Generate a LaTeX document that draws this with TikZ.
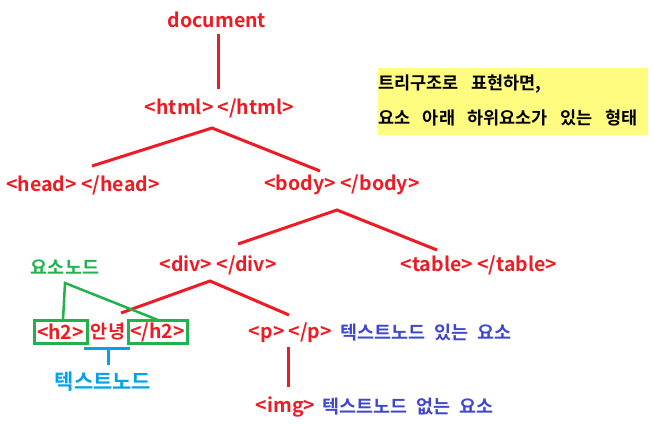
\documentclass[tikz,border=0pt]{standalone}
\usepackage{fontspec}
\setmainfont{Noto Sans CJK KR}[BoldFont={Noto Sans CJK KR Bold}]
\definecolor{pred}{HTML}{ED1C24}
\definecolor{pgreen}{HTML}{22B14C}
\definecolor{plblue}{HTML}{00A2E8}
\definecolor{pblue}{HTML}{3F48CC}
\definecolor{pyellow}{HTML}{FFFC7F}
\tikzset{
  tag/.style={text=pred,font=\fontsize{19.5}{22}\selectfont\bfseries,inner sep=0pt},
  note/.style={text=pblue,font=\fontsize{18.5}{21}\selectfont\bfseries,inner sep=0pt,
    execute at begin node={\spaceskip=9pt\relax}},
  boxtext/.style={anchor=west,inner sep=0pt,font=\fontsize{17.5}{20}\selectfont\bfseries,
    execute at begin node={\spaceskip=12.5pt\relax}},
  redline/.style={draw=pred,line width=3pt},
  greenline/.style={draw=pgreen,line width=2.5pt},
  blueline/.style={draw=plblue,line width=3pt},
  tagbox/.style={draw=pgreen,line width=3pt,minimum height=23pt,inner sep=0pt}
}
\begin{document}
\begin{tikzpicture}[x=1pt,y=-1pt]
\useasboundingbox (0,0) rectangle (653,423);
% yellow note
\fill[pyellow] (378,68) rectangle (648,135);
\node[boxtext] (n1) at (378,84) {트리구조로 표현하면,};
\node[boxtext] (n2) at (378,118) {요소 아래 하위요소가 있는 형태};
% tag nodes
\node[tag] (doc) at (217,20) {document};
\node[tag] (html) at (219.5,108) {<html> </html>};
\node[tag] (head) at (83,185) {<head> </head>};
\node[tag] (body) at (342,185) {<body> </body>};
\node[tag] (div) at (218,265) {<div> </div>};
\node[tag] (table) at (479,265) {<table> </table>};
\node[tag,tagbox,minimum width=53pt] (h2o) at (60.5,331.5) {<h2>};
\node[tag,font=\fontsize{18.5}{22}\selectfont\bfseries] (hello) at (108,332) {안녕};
\node[tag,tagbox,minimum width=59pt] (h2c) at (157.5,332) {</h2>};
\node[tag] (p) at (290.5,333) {<p> </p>};
\node[note,anchor=west] (ptext) at (340,333) {텍스트노드 있는 요소};
\node[tag] (img) at (285.5,407) {<img>};
\node[note,anchor=west] (imgtext) at (322,407) {텍스트노드 없는 요소};
\node[text=pgreen,font=\fontsize{18.5}{22}\selectfont\bfseries,inner sep=0pt] (elnode) at (65,267) {요소노드};
\node[text=plblue,font=\fontsize{21}{24}\selectfont\bfseries,inner sep=0pt] (txtnode) at (103,382) {텍스트노드};
% connector points
\coordinate (docB) at (218,34);
\coordinate (htmlT) at (218,89);
\coordinate (htmlB) at (212,128);
\coordinate (headT) at (92,166);
\coordinate (bodyT) at (320,171);
\coordinate (bodyB) at (337,210);
\coordinate (divT) at (238,244);
\coordinate (tableT) at (437,250);
\coordinate (divB) at (210,281);
\coordinate (h2T) at (121,313);
\coordinate (pT) at (289,315);
\coordinate (pB) at (288,347);
\coordinate (imgT) at (288,387);
\coordinate (elB) at (65,283);
\coordinate (h2oT) at (63,320);
\coordinate (h2cT) at (158,320);
\coordinate (brL) at (84,348);
\coordinate (brR) at (130,348);
\coordinate (brM) at (108,348);
\coordinate (brB) at (108,365);
% red connectors
\draw[redline] (docB) -- (htmlT);
\draw[redline] (headT) -- (htmlB) -- (bodyT);
\draw[redline] (divT) -- (bodyB) -- (tableT);
\draw[redline] (h2T) -- (divB) -- (pT);
\draw[redline] (pB) -- (imgT);
% green connectors
\draw[greenline] (h2oT) -- (elB) -- (h2cT);
% blue bracket
\draw[blueline] (brL) -- (brR);
\draw[blueline] (brM) -- (brB);
\end{tikzpicture}
\end{document}
